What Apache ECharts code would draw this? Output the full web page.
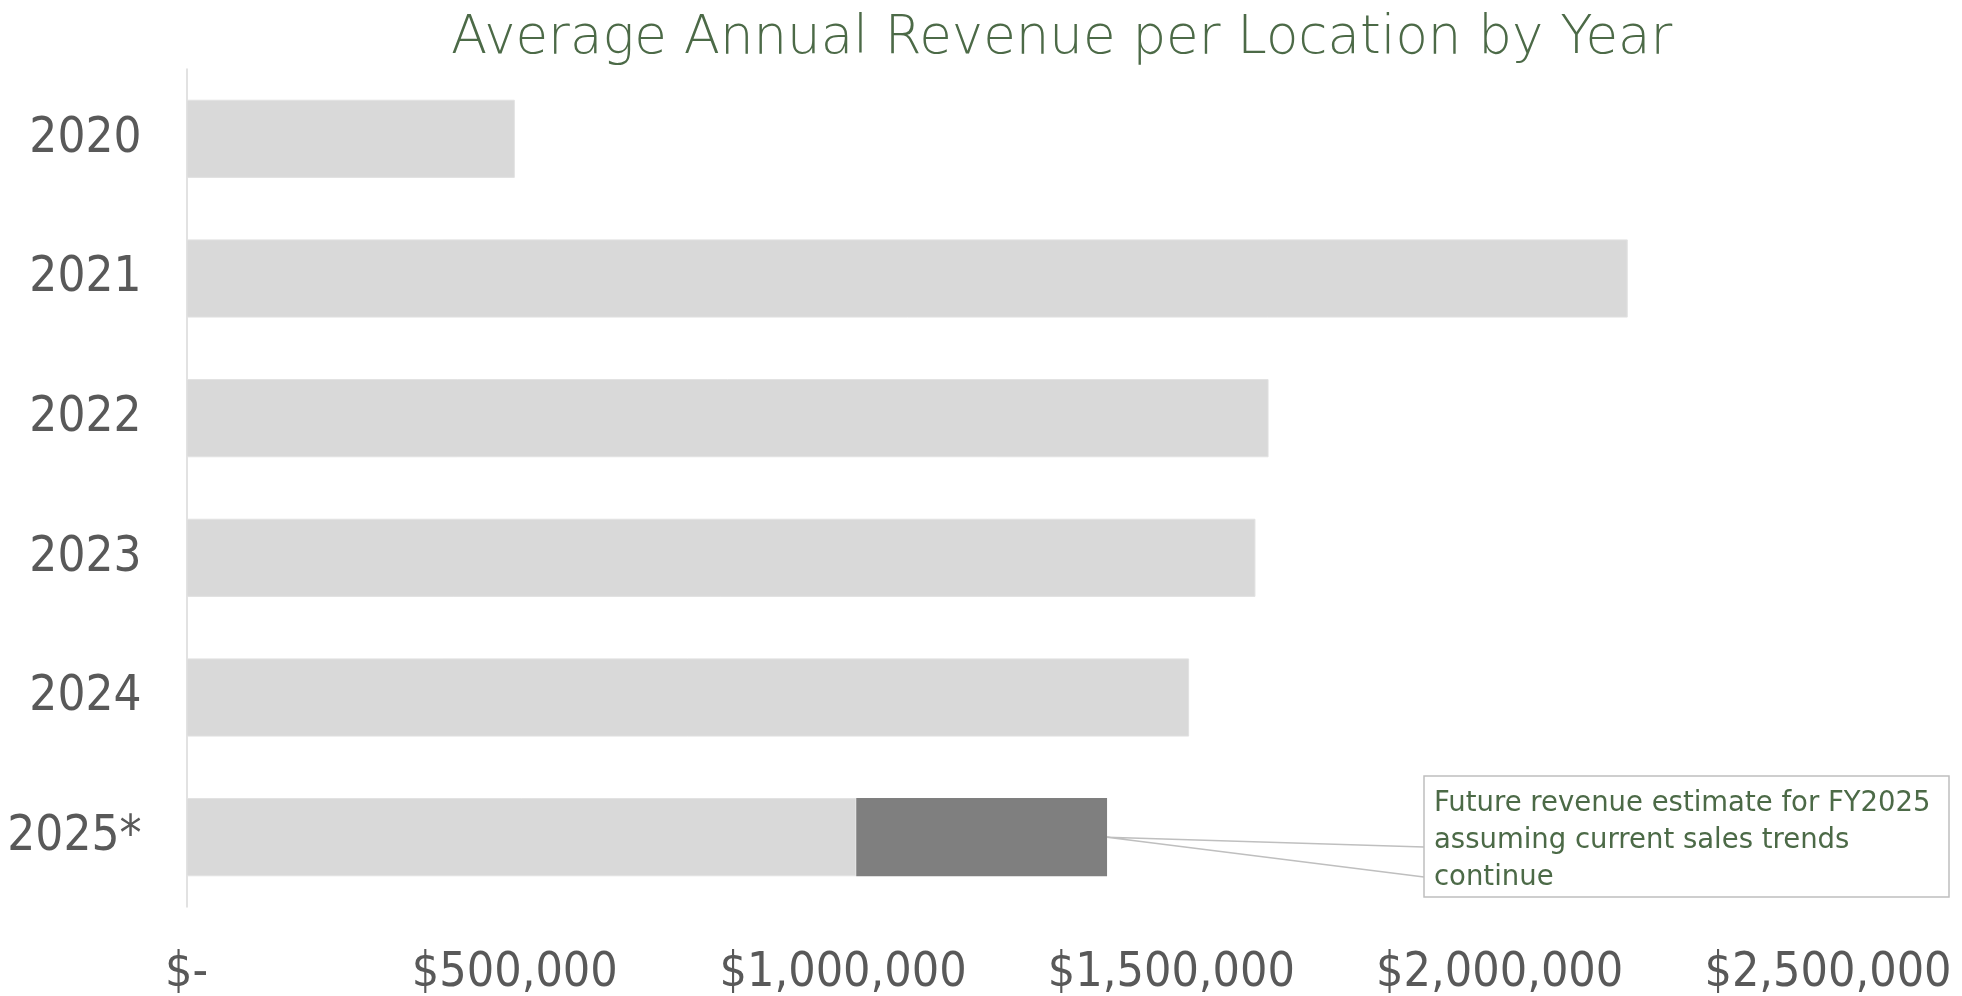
<!DOCTYPE html>
<html><head><meta charset="utf-8">
<script src="https://cdn.jsdelivr.net/npm/echarts@6/dist/echarts.min.js"></script>
<style>html,body{margin:0;padding:0;background:#fff}#c{width:1962px;height:996px}</style>
</head><body><div id="c"></div>
<script>
const categories = ['2020', '2021', '2022', '2023', '2024', '2025*'];
const actualRevenue = [500000, 2195000, 1648000, 1628000, 1527000, 1020000];
const estimatedRevenue = [null, null, null, null, null, 382000];
const xTickValues = [0, 500000, 1000000, 1500000, 2000000, 2500000];
const titleText = 'Average Annual Revenue per Location by Year';
const noteLines = ['Future revenue estimate for FY2025', 'assuming current sales trends', 'continue'];

const narrow = "'DejaVu Sans Condensed', 'DejaVu Sans', sans-serif";
const chart = echarts.init(document.getElementById('c'), null, {renderer: 'canvas'});

function fmt(v) { return v === 0 ? '$-' : '$' + v.toLocaleString('en-US'); }

const option = {
  backgroundColor: '#ffffff',
  animation: false,
  title: {
    text: titleText,
    left: 446, top: 8,
    textStyle: {fontFamily: "'DejaVu Sans', sans-serif", fontWeight: 300, fontSize: 53, color: '#4C6A47'}
  },
  grid: {left: 186.5, right: 134, top: 69, bottom: 89, containLabel: false, outerBoundsMode: 'none'},
  xAxis: {
    type: 'value', min: xTickValues[0], max: xTickValues[xTickValues.length - 1],
    interval: xTickValues[1] - xTickValues[0],
    axisLine: {show: false}, axisTick: {show: false}, splitLine: {show: false},
    axisLabel: {formatter: fmt, fontFamily: narrow, fontSize: 48, color: '#595959', margin: 43}
  },
  yAxis: {
    type: 'category', data: categories, inverse: true,
    axisLine: {show: true, lineStyle: {color: '#d9d9d9', width: 1.5}},
    axisTick: {show: false},
    axisLabel: {fontFamily: narrow, fontSize: 49, color: '#595959', margin: 45}
  },
  series: [
    {type: 'bar', name: 'Actual', stack: 'rev', data: actualRevenue, barCategoryGap: '44%',
     itemStyle: {color: '#d9d9d9', borderColor: '#e2e2e2', borderWidth: 1}},
    {type: 'bar', name: 'Estimate', stack: 'rev', data: estimatedRevenue,
     itemStyle: {color: '#7f7f7f', borderColor: '#7f7f7f', borderWidth: 1.5}}
  ]
};
chart.setOption(option);

const last = categories.length - 1;
const endVal = actualRevenue[last] + estimatedRevenue[last];
const anchor = chart.convertToPixel({gridIndex: 0}, [endVal, last]);
const box = {x: 1424, y: 776, w: 525, h: 121};
chart.setOption({
  graphic: [
    {type: 'polyline', silent: true, z: 10,
     shape: {points: [[box.x, 847], anchor, [box.x, 877]]},
     style: {stroke: '#bfbfbf', lineWidth: 1.5, fill: null}},
    {type: 'rect', silent: true, z: 11,
     shape: {x: box.x, y: box.y, width: box.w, height: box.h},
     style: {stroke: '#bfbfbf', lineWidth: 1.5, fill: '#ffffff'}},
    {type: 'text', silent: true, z: 12, x: 1434, y: 785,
     style: {text: noteLines.join('\n'), fontFamily: "'DejaVu Sans', sans-serif", fontSize: 27.5,
             lineHeight: 37, fill: '#4C6A47', textAlign: 'left', textVerticalAlign: 'top'}}
  ]
});
</script></body></html>
